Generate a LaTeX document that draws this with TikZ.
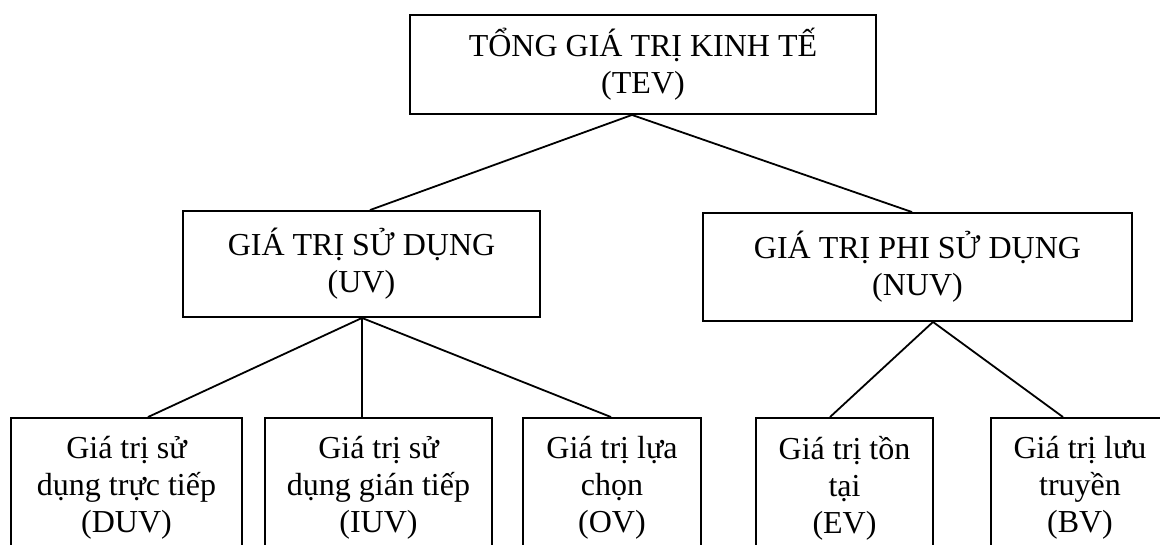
\documentclass[tikz,border=0pt]{standalone}
\usepackage{fontspec}
\setmainfont{Liberation Serif}
\begin{document}
\begin{tikzpicture}[x=1pt,y=-1pt,
  box/.style={draw, line width=1.9pt, inner sep=0pt, align=center, font=\fontsize{32}{37}\selectfont},
  conn/.style={line width=1.8pt}]
\useasboundingbox (0,0) rectangle (1160,545);
\clip (0,0) rectangle (1160,545);
\fill[white] (0,0) rectangle (1160,545);
% top
\node[box, minimum width=466pt, minimum height=99pt] (tev) at (643,64.5) {TỔNG GIÁ TRỊ KINH TẾ\\(TEV)};
% middle
\node[box, minimum width=357pt, minimum height=106pt] (uv) at (361.5,264) {GIÁ TRỊ SỬ DỤNG\\(UV)};
\node[box, minimum width=429pt, minimum height=108pt] (nuv) at (917.5,267) {GIÁ TRỊ PHI SỬ DỤNG\\(NUV)};
% bottom
\node[box, minimum width=231pt, minimum height=140pt] (d1) at (126.5,488) {Giá trị sử\\dụng trực tiếp\\(DUV)};
\node[box, minimum width=227pt, minimum height=140pt] (d2) at (378.5,488) {Giá trị sử\\dụng gián tiếp\\(IUV)};
\node[box, minimum width=178pt, minimum height=140pt] (d3) at (612,488) {Giá trị lựa\\chọn\\(OV)};
\node[box, minimum width=177pt, minimum height=140pt] (d4) at (844.5,488) {Giá trị tồn\\tại\\(EV)};
\node[box, minimum width=178pt, minimum height=140pt] (d5) at (1080,488) {Giá trị lưu\\truyền\\(BV)};
% connectors
\draw[conn] ([xshift=-11pt]tev.south) -- ([xshift=8.5pt]uv.north);
\draw[conn] ([xshift=-11pt]tev.south) -- ([xshift=-5.5pt]nuv.north);
\draw[conn] ([xshift=0.5pt]uv.south) -- ([xshift=21.5pt]d1.north);
\draw[conn] ([xshift=0.5pt]uv.south) -- ([xshift=-16.5pt]d2.north);
\draw[conn] ([xshift=0.5pt]uv.south) -- ([xshift=-1pt]d3.north);
\draw[conn] ([xshift=15.5pt]nuv.south) -- ([xshift=-14.5pt]d4.north);
\draw[conn] ([xshift=15.5pt]nuv.south) -- ([xshift=-17pt]d5.north);
\end{tikzpicture}
\end{document}
